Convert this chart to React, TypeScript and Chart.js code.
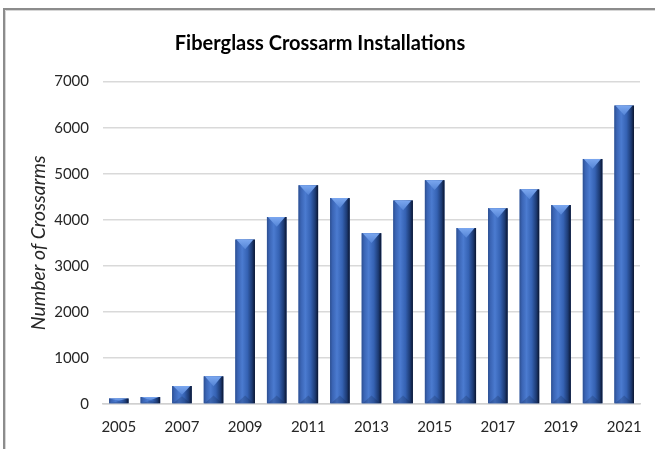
import React, { useEffect, useRef } from 'react';
import { Chart, registerables } from 'chart.js';

Chart.register(...registerables);

const years = ['2005', '2006', '2007', '2008', '2009', '2010', '2011', '2012', '2013', '2014', '2015', '2016', '2017', '2018', '2019', '2020', '2021'];
const installations = [120, 150, 390, 600, 3570, 4060, 4750, 4470, 3710, 4420, 4860, 3820, 4250, 4660, 4320, 5320, 6480];
const yMin = 0;
const yMax = 7000;
const yStep = 1000;

const chartTitle = 'Fiberglass Crossarm Installations';
const yAxisTitle = 'Number of Crossarms';

const framePlugin = {
  id: 'frame',
  beforeDraw(chart: any) {
    const { ctx, width, height } = chart;
    ctx.save();
    ctx.fillStyle = '#ffffff';
    ctx.fillRect(0, 0, width, height);
    ctx.strokeStyle = '#8c8c8c';
    ctx.lineWidth = 2;
    ctx.beginPath();
    ctx.moveTo(4, height);
    ctx.lineTo(4, 9);
    ctx.lineTo(width, 9);
    ctx.stroke();
    ctx.strokeStyle = '#d6d6d6';
    ctx.lineWidth = 1;
    ctx.beginPath();
    ctx.moveTo(5.5, height);
    ctx.lineTo(5.5, 10.5);
    ctx.lineTo(width, 10.5);
    ctx.stroke();
    ctx.restore();
  },
};

const bevelPlugin = {
  id: 'bevel',
  afterDatasetsDraw(chart: any) {
    const ctx = chart.ctx;
    const meta = chart.getDatasetMeta(0);
    ctx.save();
    meta.data.forEach((bar: any) => {
      const { x, y, base, width } = bar.getProps(['x', 'y', 'base', 'width'], true);
      const l = x - width / 2;
      const r = x + width / 2;
      const t = Math.min(y, base);
      const b = Math.max(y, base);
      const h = b - t;
      const g = ctx.createLinearGradient(l, 0, r, 0);
      g.addColorStop(0, '#2d4f90');
      g.addColorStop(0.12, '#3a64b4');
      g.addColorStop(0.35, '#4b7bd0');
      g.addColorStop(0.62, '#3562b3');
      g.addColorStop(0.85, '#1d3b74');
      g.addColorStop(1, '#0a1530');
      ctx.fillStyle = g;
      ctx.fillRect(l, t, width, h);
      const bh = Math.min(width * 0.5, h * 0.5);
      const tg = ctx.createLinearGradient(0, t, 0, t + bh);
      tg.addColorStop(0, '#7ba7ef');
      tg.addColorStop(1, '#5484d6');
      ctx.fillStyle = tg;
      ctx.beginPath();
      ctx.moveTo(l + 1, t);
      ctx.lineTo(r - 1.5, t);
      ctx.lineTo(x, t + bh);
      ctx.closePath();
      ctx.fill();
      ctx.fillStyle = 'rgba(15,30,70,0.22)';
      ctx.beginPath();
      ctx.moveTo(l + 1, b);
      ctx.lineTo(r - 1.5, b);
      ctx.lineTo(x, b - bh * 0.8);
      ctx.closePath();
      ctx.fill();
    });
    ctx.restore();
  },
};

export default function App() {
  const ref = useRef<HTMLCanvasElement | null>(null);

  useEffect(() => {
    if (!ref.current) return;
    const chart = new Chart(ref.current, {
      type: 'bar',
      data: {
        labels: years,
        datasets: [
          {
            label: 'Installations',
            data: installations,
            backgroundColor: '#3a66b5',
            borderWidth: 0,
            barPercentage: 0.62,
            categoryPercentage: 1,
          },
        ],
      },
      options: {
        animation: false,
        responsive: false,
        devicePixelRatio: 1,
        layout: { padding: { left: 0, right: 15, top: 0, bottom: 0 } },
        plugins: {
          legend: { display: false },
          tooltip: { enabled: false },
          title: {
            display: true,
            text: chartTitle,
            color: '#000000',
            font: { family: 'Lato', size: 20, weight: 'bold' },
            padding: { top: 32, bottom: 25.6 },
          },
        },
        scales: {
          x: {
            grid: { display: false },
            border: { display: true, color: '#d0d0d0', width: 1.5 },
            ticks: {
              autoSkip: false,
              maxRotation: 0,
              padding: 6,
              color: '#262626',
              font: { family: 'Lato', size: 15 },
              callback: (_v: any, i: number) => (i % 2 === 0 ? years[i] : ''),
            },
            afterFit: (scale: any) => {
              scale.height = 45;
            },
          },
          y: {
            min: yMin,
            max: yMax,
            ticks: {
              stepSize: yStep,
              padding: 14,
              color: '#262626',
              font: { family: 'Lato', size: 15 },
              callback: (v: any) => String(v),
            },
            grid: { color: '#d9d9d9', lineWidth: 1.5, drawTicks: false },
            border: { display: false },
            title: {
              display: true,
              text: yAxisTitle,
              color: '#262626',
              font: { family: 'Lato', size: 19.5, style: 'italic' },
              padding: { top: 27, bottom: 0 },
            },
            afterFit: (scale: any) => {
              scale.width = 103;
            },
          },
        },
      },
      plugins: [framePlugin, bevelPlugin],
    });
    return () => chart.destroy();
  }, []);

  return (
    <div style={{ position: 'absolute', left: 0, top: 0, width: 655, height: 449 }}>
      <canvas ref={ref} width={655} height={449} style={{ width: 655, height: 449 }} />
    </div>
  );
}
